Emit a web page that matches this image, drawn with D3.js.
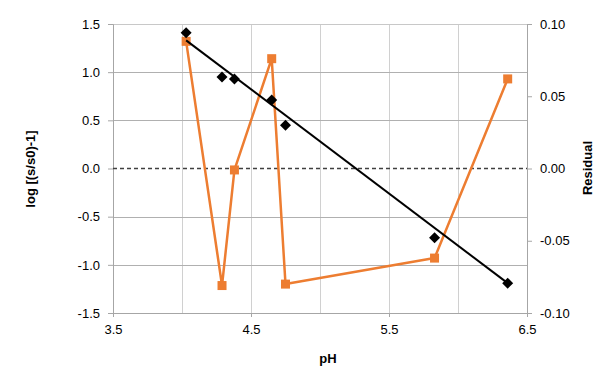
<!DOCTYPE html>
<html>
<head>
<meta charset="utf-8">
<script src="https://cdn.jsdelivr.net/npm/d3@7"></script>
<style>
  body { margin: 0; background: #fff; }
  svg { display: block; font-family: "Liberation Sans", Arial, sans-serif; }
</style>
</head>
<body>
<svg id="chart" width="600" height="376"></svg>
<script>
// Data
const pH = [4.03, 4.29, 4.38, 4.65, 4.75, 5.83, 6.36];
const logRatio = [1.41, 0.95, 0.93, 0.71, 0.45, -0.72, -1.19];
const residual = [0.088, -0.081, -0.001, 0.076, -0.080, -0.062, 0.062];
const fitX = [4.03, 6.36];
const fitY = [1.33, -1.19];
const xTicks = [3.5, 4.5, 5.5, 6.5];
const xGrid = [3.5, 4.0, 4.5, 5.0, 5.5, 6.0, 6.5];
const yTicks = [-1.5, -1.0, -0.5, 0.0, 0.5, 1.0, 1.5];
const y2Ticks = [-0.10, -0.05, 0.00, 0.05, 0.10];

const svg = d3.select("#chart");
const L = 113, R = 527, T = 24, B = 313;

const x = d3.scaleLinear().domain([3.5, 6.5]).range([L, R]);
const y = d3.scaleLinear().domain([-1.5, 1.5]).range([B, T]);
const y2 = d3.scaleLinear().domain([-0.10, 0.10]).range([B, T]);

const fmt = p => d => d.toFixed(p);

// vertical gridlines
svg.append("g").selectAll("line").data(xGrid).join("line")
  .attr("x1", d => x(d)).attr("x2", d => x(d))
  .attr("y1", T).attr("y2", B)
  .attr("stroke", "#d0d0d0").attr("stroke-width", 1)
  .attr("shape-rendering", "crispEdges");

// horizontal gridlines (skip zero, drawn dashed)
svg.append("g").selectAll("line").data(yTicks.filter(d => d !== 0)).join("line")
  .attr("x1", L).attr("x2", R)
  .attr("y1", d => Math.round(y(d)) + 0.5).attr("y2", d => Math.round(y(d)) + 0.5)
  .attr("stroke", d => (d === 1.5 ? "#c8c8c8" : "#b0b0b0")).attr("stroke-width", 1);

// left axis
const yAxis = d3.axisLeft(y).tickValues(yTicks).tickFormat(fmt(1)).tickSize(5).tickPadding(8);
const gy = svg.append("g").attr("transform", `translate(${L},0)`).call(yAxis);
gy.select(".domain").attr("stroke", "#a6a6a6");
gy.selectAll(".tick line").attr("stroke", "#a6a6a6");
gy.selectAll(".tick text").attr("font-size", 13).attr("fill", "#000").attr("font-family", "Liberation Sans, Arial, sans-serif");

// right axis
const y2Axis = d3.axisRight(y2).tickValues(y2Ticks).tickFormat(fmt(2)).tickSize(5).tickPadding(8);
const gy2 = svg.append("g").attr("transform", `translate(${R},0)`).call(y2Axis);
gy2.select(".domain").attr("stroke", "#a6a6a6");
gy2.selectAll(".tick line").attr("stroke", "#a6a6a6");
gy2.selectAll(".tick text").attr("font-size", 13).attr("fill", "#000").attr("font-family", "Liberation Sans, Arial, sans-serif");

// bottom axis
const xAxis = d3.axisBottom(x).tickValues(xTicks).tickFormat(fmt(1)).tickSize(4).tickPadding(8);
const gx = svg.append("g").attr("transform", `translate(0,${B})`).call(xAxis);
gx.select(".domain").attr("stroke", "#a6a6a6");
gx.selectAll(".tick line").attr("stroke", "#a6a6a6");
gx.selectAll(".tick text").attr("font-size", 13).attr("fill", "#000").attr("font-family", "Liberation Sans, Arial, sans-serif");

// dashed zero line
svg.append("line")
  .attr("x1", L).attr("x2", R)
  .attr("y1", y(0)).attr("y2", y(0))
  .attr("stroke", "#404040").attr("stroke-width", 1.3)
  .attr("stroke-dasharray", "4,3");

// residual series (orange)
const orange = "#ED7D31";
const idx = d3.range(pH.length);
svg.append("path")
  .datum(idx)
  .attr("fill", "none").attr("stroke", orange).attr("stroke-width", 2.5)
  .attr("stroke-linejoin", "round")
  .attr("d", d3.line().x(i => x(pH[i])).y(i => y2(residual[i])));
svg.append("g").selectAll("rect").data(idx).join("rect")
  .attr("x", i => x(pH[i]) - 4.5).attr("y", i => y2(residual[i]) - 4.5)
  .attr("width", 9).attr("height", 9)
  .attr("fill", orange);

// fit line (black)
svg.append("path")
  .datum(d3.range(fitX.length))
  .attr("fill", "none").attr("stroke", "#000").attr("stroke-width", 2)
  .attr("d", d3.line().x(i => x(fitX[i])).y(i => y(fitY[i])));

// data diamonds
svg.append("g").selectAll("path").data(idx).join("path")
  .attr("transform", i => `translate(${x(pH[i])},${y(logRatio[i])})`)
  .attr("d", "M0,-5.5L5.5,0L0,5.5L-5.5,0Z")
  .attr("fill", "#000");

// axis titles
svg.append("text")
  .attr("transform", `translate(35,169) rotate(-90)`)
  .attr("text-anchor", "middle")
  .attr("font-size", 13).attr("font-weight", "bold")
  .text("log [(s/s0)-1]");
svg.append("text")
  .attr("transform", `translate(592,168) rotate(-90)`)
  .attr("text-anchor", "middle")
  .attr("font-size", 13).attr("font-weight", "bold")
  .text("Residual");
svg.append("text")
  .attr("x", 328).attr("y", 363)
  .attr("text-anchor", "middle")
  .attr("font-size", 13).attr("font-weight", "bold")
  .text("pH");
</script>
</body>
</html>
